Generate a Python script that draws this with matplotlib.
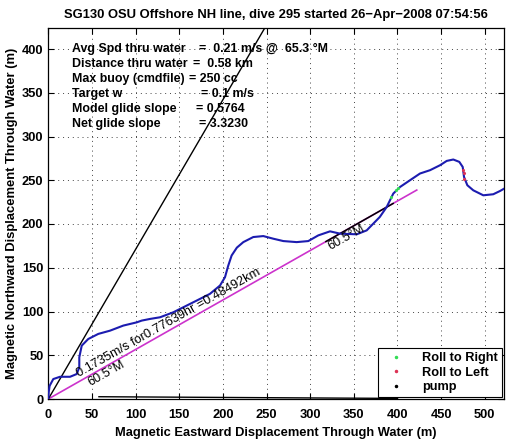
import matplotlib
matplotlib.use("Agg")
import matplotlib.pyplot as plt
from matplotlib.lines import Line2D
import numpy as np

# ---------------- data ----------------
title = "SG130 OSU Offshore NH line, dive 295 started 26\u2212Apr\u22122008 07:54:56"
xlabel = "Magnetic Eastward Displacement Through Water (m)"
ylabel = "Magnetic Northward Displacement Through Water (m)"

track_x = [0, 0.5, 1.5, 5.7, 13.4, 24.9, 32.5, 35.5, 35.5, 38.3, 45.8, 57.3, 70.7, 85.9,
           101.3, 107, 116.5, 128, 143.2, 154.6, 170, 185.2, 196.7, 202.4, 206, 210,
           216, 223.4, 234.8, 246.3, 257.7, 269.2, 284.5, 297.8, 309.3, 322.7, 334.1,
           353.3, 364.7, 379.7, 387.6, 395.2, 402.9, 414.3, 425.8, 437.3, 448.8, 456.4,
           463.9, 470.8, 474.7, 476.2, 480, 486.8, 498.3, 509.7, 517.4, 524.3]
track_y = [0, 8, 15, 22.8, 25.4, 25.4, 28.5, 36.1, 47.6, 61, 68.6, 74.4, 78.1, 83.9,
           87.6, 89.6, 91.5, 93.4, 99.1, 104.8, 112.5, 120.2, 129.7, 139.2, 152, 164,
           173, 179.3, 185.1, 186.2, 183.2, 180.5, 179.3, 180.5, 187, 191.6, 189,
           188.2, 192.7, 208, 219.4, 234.8, 242.3, 250, 257.7, 261.5, 267.2, 272.1,
           273.7, 271, 265.2, 253.8, 244.3, 238.5, 232.8, 234, 237.7, 241.6]

roll_right_x = [393.0, 398.0, 401.0]
roll_right_y = [231.0, 238.5, 241.5]
roll_left_x = [475.0, 475.8, 476.5]
roll_left_y = [262.0, 258.0, 252.0]

pump_x = [58, 128, 198, 268, 338, 400]
pump_y = [2.6, 2.2, 1.8, 1.4, 1.0, 0.7]

glide_x = [0, 260]
glide_y = [0, 444.6]

cur_speed = 0.1735      # m/s
cur_hours = 0.77639     # hr
cur_dist_km = 0.48492   # km
cur_heading = 60.5      # deg magnetic

info_labels = ["Avg Spd thru water", "Distance thru water", "Max buoy (cmdfile)",
               "Target w", "Model glide slope", "Net glide slope"]
info_values = ["=  0.21 m/s @  65.3 \u00b0M", "=  0.58 km", "= 250 cc",
               "= 0.1 m/s", "= 0.5764", "= 3.3230"]
info_eq_x = [173, 165.4, 161.5, 175, 169.2, 173]

xticks = list(range(0, 501, 50))
yticks = list(range(0, 401, 50))
xlim = (0, 522)
ylim = (0, 424)

# ---------------- figure ----------------
plt.rcParams['font.family'] = ['Liberation Sans', 'DejaVu Sans']
W, H = 514, 442
fig = plt.figure(figsize=(W / 100, H / 100), dpi=100)
left, right, top, bottom = 48.3, 504, 28, 399
ax = fig.add_axes([left / W, 1 - bottom / H, (right - left) / W, (bottom - top) / H])
ax.set_xlim(*xlim)
ax.set_ylim(*ylim)

# current vector line
ang = np.deg2rad(cur_heading)
dist_m = cur_dist_km * 1000
cx = [0, dist_m * np.sin(ang)]
cy = [0, dist_m * np.cos(ang)]
ax.plot(cx, cy, color='#cc33cc', lw=1.2, zorder=3)
sl = cy[1] / cx[1]
seg = np.array([318, 395])
ax.plot(seg, seg * sl, color='black', lw=1.1, zorder=3)

ax.plot(glide_x, glide_y, color='black', lw=1.0, zorder=3)
ax.plot(track_x, track_y, color='#1c1cb0', lw=1.5, zorder=4)
ax.plot(roll_right_x, roll_right_y, '.', color='#33dd55', ms=2.5, zorder=5)
ax.plot(roll_left_x, roll_left_y, '.', color='#dd3355', ms=2.5, zorder=5)
ax.plot(pump_x, pump_y, color='black', lw=1.0, zorder=3)

# annotations along current line
rot = np.degrees(np.arctan(sl))
tx = 37
ax.text(tx, tx * sl + 1.5, f"{cur_speed:.4f}m/s for{cur_hours:.5f}hr ={cur_dist_km:.5f}km",
        rotation=rot, rotation_mode='anchor', ha='left', va='bottom', fontsize=9.2, zorder=6)
for x0 in [43, 318]:
    ax.text(x0, x0 * sl - 1.0, f"{cur_heading:.1f}\u00b0M", rotation=rot,
            rotation_mode='anchor', ha='left', va='top', fontsize=9.2, zorder=6)

# info text
y0 = 400
for i, (lab, val, ex) in enumerate(zip(info_labels, info_values, info_eq_x)):
    yy = y0 - i * 17.2
    ax.text(26.8, yy, lab, fontsize=8.9, fontweight='bold', va='center', ha='left', zorder=6)
    ax.text(ex, yy, val, fontsize=8.9, fontweight='bold', va='center', ha='left', zorder=6)

# axes styling
ax.set_xticks(xticks)
ax.set_yticks(yticks)
ax.tick_params(direction='in', length=4, width=0.8, top=True, right=True,
               labelsize=9.3)
ax.tick_params(axis='x', pad=7.5)
ax.tick_params(axis='y', pad=3.5)
for lab in ax.get_xticklabels() + ax.get_yticklabels():
    lab.set_fontweight('bold')
ax.grid(True, color='#444444', linestyle=(0, (1, 4)), lw=0.7)
for s in ax.spines.values():
    s.set_linewidth(0.9)

ax.set_title(title, fontsize=9.4, fontweight='bold', pad=7)
ax.set_xlabel(xlabel, fontsize=9.3, fontweight='bold', labelpad=4)
ax.set_ylabel(ylabel, fontsize=9.4, fontweight='bold', labelpad=3)

handles = [Line2D([], [], ls='none', marker='.', color='#33dd55', ms=3),
           Line2D([], [], ls='none', marker='.', color='#dd3355', ms=3),
           Line2D([], [], ls='none', marker='.', color='black', ms=3)]
leg = ax.legend(handles, ["Roll to Right", "Roll to Left", "pump"], loc='lower right',
                prop={'weight': 'bold', 'size': 9.2}, fancybox=False, framealpha=1,
                edgecolor='black', borderaxespad=0.15, handlelength=2.2,
                handletextpad=1.0, labelspacing=0.2, borderpad=0.3)
leg.get_frame().set_linewidth(0.8)
leg.set_zorder(10)

fig.savefig("out.png", dpi=100)
